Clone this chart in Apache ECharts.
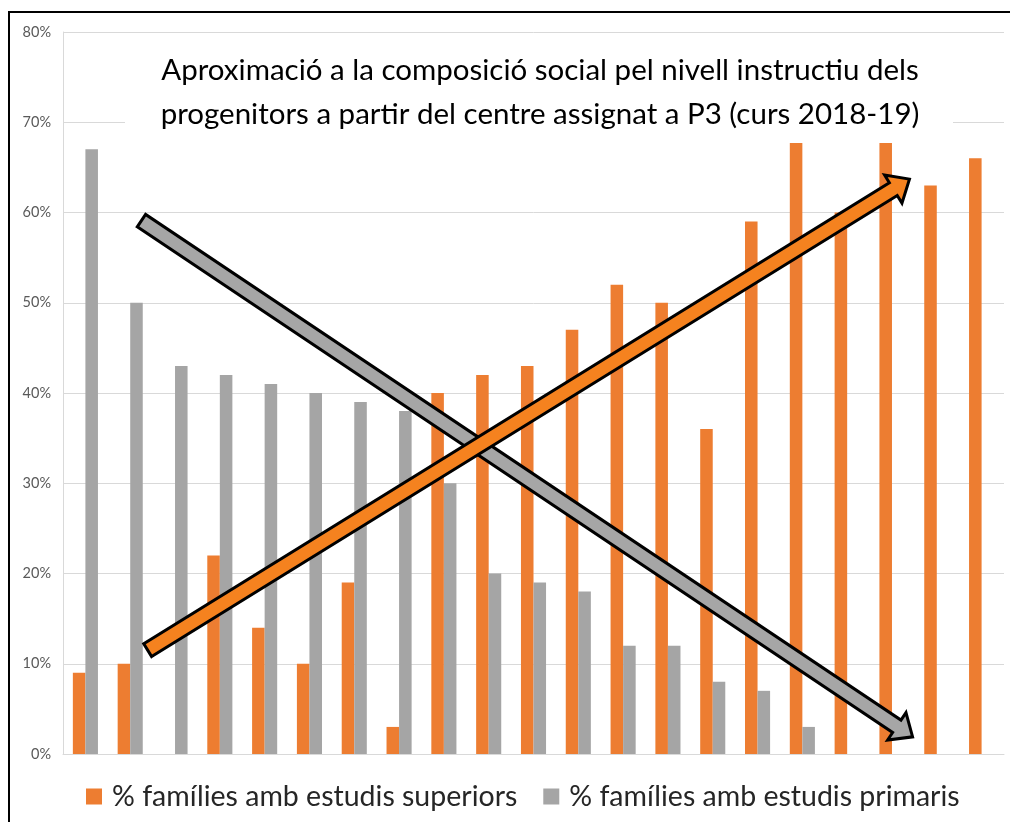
<!DOCTYPE html>
<html>
<head>
<meta charset="utf-8">
<script src="https://cdn.jsdelivr.net/npm/echarts@6/dist/echarts.min.js"></script>
<style>html,body{margin:0;padding:0;background:#fff;}#c{width:1010px;height:822px;}</style>
</head>
<body>
<div id="c"></div>
<script>
const categories = ['C1','C2','C3','C4','C5','C6','C7','C8','C9','C10','C11','C12','C13','C14','C15','C16','C17','C18','C19','C20','C21'];
const superiors = [9,10,0,22,14,10,19,3,40,42,43,47,52,50,36,59,70,60,70,63,66];
const primaris = [67,50,43,42,41,40,39,38,30,20,19,18,12,12,8,7,3,0,0,0,0];
const yTicks = [0,10,20,30,40,50,60,70,80];
const seriesNames = ['% famílies amb estudis superiors','% famílies amb estudis primaris'];
const titleText = 'Aproximació a la composició social pel nivell instructiu dels\nprogenitors a partir del centre assignat a P3 (curs 2018-19)';
// trend arrows: [categoryPosition, percent] start and end
const arrowPrimaris = [[1.25, 59.1], [18.46, 1.9]];
const arrowSuperiors = [[1.39, 11.5], [18.39, 63.7]];

const chart = echarts.init(document.getElementById('c'));
const FONT = 'Lato';
chart.setOption({
  animation: false,
  backgroundColor: '#fff',
  title: {
    text: titleText,
    left: 540, top: 48, textAlign: 'center', padding: 0, z: 20,
    textStyle: {fontFamily: FONT, fontSize: 29.5, fontWeight: 'normal', color: '#000', lineHeight: 44}
  },
  legend: {
    data: seriesNames,
    left: 86, top: 782, padding: 0,
    itemWidth: 16, itemHeight: 16, itemGap: 26,
    icon: 'rect',
    textStyle: {fontFamily: FONT, fontSize: 28.5, color: '#262626', padding: [0,0,0,5]}
  },
  grid: {left: 63, right: 6, top: 32, bottom: 68, containLabel: false},
  xAxis: [{
    type: 'category', data: categories,
    axisLine: {show: true, lineStyle: {color: '#d9d9d9'}},
    axisTick: {show: false}, axisLabel: {show: false}, splitLine: {show: false}
  }, {
    type: 'value', min: -0.5, max: 20.5, show: false
  }],
  yAxis: {
    type: 'value', min: 0, max: 80, interval: 10,
    axisLine: {show: true, onZero: false, lineStyle: {color: '#d9d9d9'}},
    axisTick: {show: false},
    axisLabel: {formatter: '{value}%', fontFamily: FONT, fontSize: 14.5, color: '#595959', margin: 12,
      customValues: yTicks},
    splitLine: {lineStyle: {color: '#d9d9d9', width: 1}}
  },
  series: [{
    name: seriesNames[0], type: 'bar', data: superiors, xAxisIndex: 0,
    itemStyle: {color: '#ED7D31'}, barGap: '0%', barCategoryGap: '44%'
  }, {
    name: seriesNames[1], type: 'bar', data: primaris, xAxisIndex: 0,
    itemStyle: {color: '#A5A5A5'}, barGap: '0%', barCategoryGap: '44%'
  }]
});

function arrowPoints(a, b) {
  const p0 = chart.convertToPixel({xAxisIndex: 1, yAxisIndex: 0}, a);
  const p1 = chart.convertToPixel({xAxisIndex: 1, yAxisIndex: 0}, b);
  const dx = p1[0]-p0[0], dy = p1[1]-p0[1];
  const L = Math.sqrt(dx*dx+dy*dy);
  const ux = dx/L, uy = dy/L, nx = -uy, ny = ux;
  const sw = 7.5, hw = 16.5, hl = 19;
  const bx = p1[0]-ux*hl, by = p1[1]-uy*hl;
  return [
    [p0[0]+nx*sw, p0[1]+ny*sw],
    [bx+nx*sw, by+ny*sw],
    [bx+nx*hw, by+ny*hw],
    [p1[0], p1[1]],
    [bx-nx*hw, by-ny*hw],
    [bx-nx*sw, by-ny*sw],
    [p0[0]-nx*sw, p0[1]-ny*sw]
  ];
}

chart.setOption({
  graphic: [
    {type: 'rect', id: 'titleBg', z: 15, shape: {x: 125, y: 34, width: 828, height: 109}, style: {fill: '#fff'}},
    {type: 'polygon', id: 'arrowP', z: 10, shape: {points: arrowPoints(arrowPrimaris[0], arrowPrimaris[1])},
      style: {fill: '#A6A6A6', stroke: '#000', lineWidth: 3, lineJoin: 'miter'}},
    {type: 'polygon', id: 'arrowS', z: 11, shape: {points: arrowPoints(arrowSuperiors[0], arrowSuperiors[1])},
      style: {fill: '#F5821F', stroke: '#000', lineWidth: 3, lineJoin: 'miter'}},
    {type: 'rect', id: 'border', z: 30, shape: {x: 9, y: 12, width: 1010, height: 830}, style: {fill: 'none', stroke: '#000', lineWidth: 2}}
  ]
});
</script>
</body>
</html>
